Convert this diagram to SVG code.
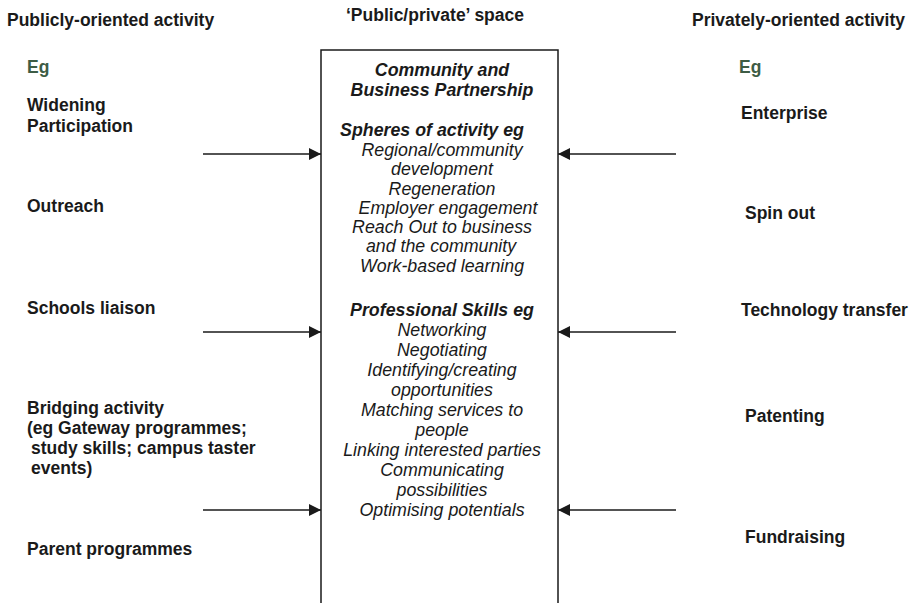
<svg xmlns="http://www.w3.org/2000/svg" width="914" height="603" viewBox="0 0 914 603">
<defs>
<style>
text{font-family:"Liberation Sans",Arial,sans-serif;fill:#1a1a1a}
.b{font-weight:bold;font-size:17.5px}
.h{font-weight:bold;font-size:17.5px}
.eg{font-weight:bold;font-size:17.5px;fill:#3d5c45}
.bi{font-weight:bold;font-style:italic;font-size:17.8px;text-anchor:middle}
.i{font-style:italic;font-size:17.8px;text-anchor:middle}
.line{stroke:#1a1a1a;stroke-width:1.5;fill:none}
</style>
<marker id="ah" viewBox="0 0 12 12" refX="12" refY="6" markerWidth="12" markerHeight="12" markerUnits="userSpaceOnUse" orient="auto">
<path d="M0,0 L12,6 L0,12 Z" fill="#1a1a1a"/>
</marker>
</defs>
<rect width="914" height="603" fill="#ffffff"/>

<g id="headers">
<text class="h" x="7" y="26">Publicly-oriented activity</text>
<text class="h" x="435" y="21" text-anchor="middle">‘Public/private’ space</text>
<text class="h" x="692" y="26">Privately-oriented activity</text>
</g>

<g id="public-activities">
<text class="eg" x="27" y="73">Eg</text>
<text class="b" x="27" y="111">Widening</text>
<text class="b" x="27" y="132">Participation</text>
<text class="b" x="27" y="212">Outreach</text>
<text class="b" x="27" y="314">Schools liaison</text>
<text class="b" x="27" y="414">Bridging activity</text>
<text class="b" x="27" y="434">(eg Gateway programmes;</text>
<text class="b" x="31" y="454">study skills; campus taster</text>
<text class="b" x="31" y="474">events)</text>
<text class="b" x="27" y="555">Parent programmes</text>
</g>

<g id="partnership-box">
<path class="line" d="M321,603 V50 H558 V603"/>
<text class="bi" x="442" y="76">Community and</text>
<text class="bi" x="442" y="96">Business Partnership</text>
<text class="bi" x="432" y="136">Spheres of activity eg</text>
<text class="i" x="442" y="156">Regional/community</text>
<text class="i" x="442" y="175">development</text>
<text class="i" x="442" y="195">Regeneration</text>
<text class="i" x="448" y="214">Employer engagement</text>
<text class="i" x="442" y="233">Reach Out to business</text>
<text class="i" x="441" y="252">and the community</text>
<text class="i" x="442" y="272">Work-based learning</text>
<text class="bi" x="442" y="316">Professional Skills eg</text>
<text class="i" x="442" y="336">Networking</text>
<text class="i" x="442" y="356">Negotiating</text>
<text class="i" x="442" y="376">Identifying/creating</text>
<text class="i" x="442" y="396">opportunities</text>
<text class="i" x="442" y="416">Matching services to</text>
<text class="i" x="442" y="436">people</text>
<text class="i" x="442" y="456">Linking interested parties</text>
<text class="i" x="442" y="476">Communicating</text>
<text class="i" x="442" y="496">possibilities</text>
<text class="i" x="442" y="516">Optimising potentials</text>
</g>

<g id="private-activities">
<text class="eg" x="739" y="73">Eg</text>
<text class="b" x="741" y="119">Enterprise</text>
<text class="b" x="745" y="219">Spin out</text>
<text class="b" x="741" y="316">Technology transfer</text>
<text class="b" x="745" y="422">Patenting</text>
<text class="b" x="745" y="543">Fundraising</text>
</g>

<g id="connectors">
<line class="line" x1="203" y1="154" x2="321" y2="154" marker-end="url(#ah)"/>
<line class="line" x1="203" y1="332" x2="321" y2="332" marker-end="url(#ah)"/>
<line class="line" x1="203" y1="510" x2="321" y2="510" marker-end="url(#ah)"/>
<line class="line" x1="676" y1="154" x2="558" y2="154" marker-end="url(#ah)"/>
<line class="line" x1="676" y1="332" x2="558" y2="332" marker-end="url(#ah)"/>
<line class="line" x1="676" y1="510" x2="558" y2="510" marker-end="url(#ah)"/>
</g>
</svg>
